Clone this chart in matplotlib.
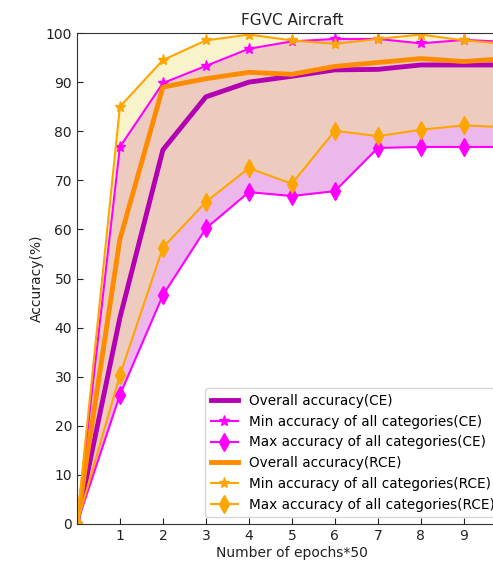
import numpy as np
import matplotlib.pyplot as plt

# epochs (x50) and accuracies
epochs = [0, 1, 2, 3, 4, 5, 6, 7, 8, 9, 10]

ce_overall = [0, 42.0, 76.2, 87.0, 90.0, 91.2, 92.5, 92.6, 93.5, 93.5, 93.5]
ce_upper = [0, 76.8, 89.8, 93.3, 96.8, 98.3, 98.8, 98.8, 97.9, 98.6, 98.2]
ce_lower = [0, 26.3, 46.6, 60.2, 67.6, 66.8, 67.8, 76.6, 76.8, 76.8, 76.8]

rce_overall = [0, 58.0, 89.0, 90.7, 92.0, 91.6, 93.2, 94.0, 94.8, 94.2, 94.8]
rce_upper = [0, 85.0, 94.5, 98.5, 99.7, 98.5, 97.8, 98.8, 99.7, 98.5, 97.8]
rce_lower = [0, 30.3, 56.3, 65.6, 72.5, 69.3, 80.1, 79.0, 80.3, 81.2, 80.8]

fig = plt.figure(figsize=(4.93, 5.63), dpi=100)
ax = fig.add_axes([0.156, 0.0693, 0.872, 0.872])

# shaded bands
ax.fill_between(epochs, ce_lower, ce_upper, color='orchid', alpha=0.5, linewidth=0)
ax.fill_between(epochs, rce_lower, rce_upper, color='khaki', alpha=0.45, linewidth=0)

ax.plot(epochs, ce_overall, color='#b300b3', lw=3.5, label='Overall accuracy(CE)')
ax.plot(epochs, ce_upper, color='magenta', lw=1.5, marker='*', ms=8,
        label='Min accuracy of all categories(CE)')
ax.plot(epochs, ce_lower, color='magenta', lw=1.5, marker='d', ms=9,
        label='Max accuracy of all categories(CE)')
ax.plot(epochs, rce_overall, color='darkorange', lw=3.5, label='Overall accuracy(RCE)')
ax.plot(epochs, rce_upper, color='orange', lw=1.5, marker='*', ms=8,
        label='Min accuracy of all categories(RCE)')
ax.plot(epochs, rce_lower, color='orange', lw=1.5, marker='d', ms=9,
        label='Max accuracy of all categories(RCE)')

ax.set_xlim(0, 10)
ax.set_ylim(0, 100)
ax.set_xticks(range(1, 11))
ax.set_yticks(range(0, 101, 10))
ax.tick_params(direction='in', colors='#222222', length=4)
for s in ax.spines.values():
    s.set_color('#333333')
ax.set_title('FGVC Aircraft', fontsize=11, color='#222222')
ax.set_xlabel('Number of epochs*50', labelpad=2, color='#222222')
ax.set_ylabel('Accuracy(%)', labelpad=1, color='#222222')
ax.legend(loc='lower right', fontsize=9.8)

fig.savefig('out.png', dpi=100)
